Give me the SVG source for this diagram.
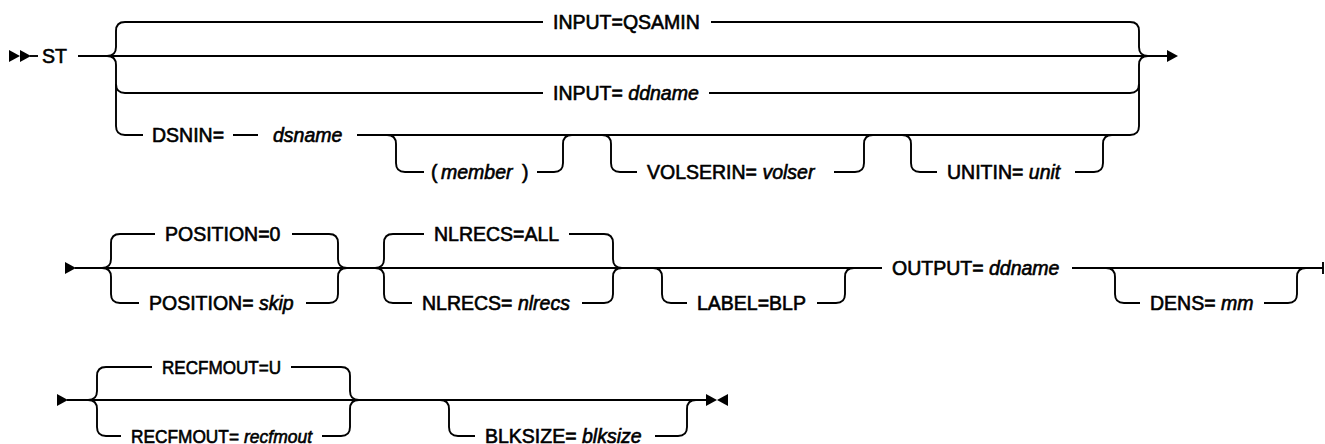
<svg xmlns="http://www.w3.org/2000/svg" xmlns:xlink="http://www.w3.org/1999/xlink" width="1325" height="444" viewBox="0 0 1325 444">
<style>
  .ln { fill: none; stroke: #000; stroke-width: 1.9; }
  .t { font-family: "Liberation Sans", Arial, sans-serif; font-size: 19.5px; fill: #000; stroke: #000; stroke-width: 0.6; }
  .s { font-size: 18px; }
  .v { font-style: italic; }
  .ah { fill: #000; }
</style>
<defs>
  <polygon id="arR" points="0,-6 0,6 11,0" class="ah"/>
  <polygon id="arL" points="11,-6 11,6 0,0" class="ah"/>
</defs>
<rect width="1325" height="444" fill="#fff"/>

<g id="connectors">
  <!-- Row 1 -->
  <use xlink:href="#arR" x="9" y="56"/>
  <use xlink:href="#arR" x="20" y="56"/>
  <path class="ln" d="M30,56 H38"/>
  <path class="ln" d="M78,56 H1167"/>
  <use xlink:href="#arR" x="1167" y="56"/>
  <path class="ln" d="M125,22 Q116,22 116,31 V47 Q116,56 107,56"/>
  <path class="ln" d="M107,56 Q116,56 116,65 V126 Q116,135 125,135"/>
  <path class="ln" d="M116,84 Q116,93 125,93"/>
  <path class="ln" d="M1130,22 Q1139,22 1139,31 V47 Q1139,56 1148,56"/>
  <path class="ln" d="M1148,56 Q1139,56 1139,65 V126 Q1139,135 1130,135"/>
  <path class="ln" d="M1139,84 Q1139,93 1130,93"/>
  <path class="ln" d="M125,22 H543 M711,22 H1130"/>
  <path class="ln" d="M125,93 H543 M709,93 H1130"/>
  <path class="ln" d="M125,135 H143 M233,135 H258 M357,135 H1130"/>
  <path class="ln" d="M387,135 Q396,135 396,144 V163 Q396,172 405,172 H424"/>
  <path class="ln" d="M537,172 H554 Q563,172 563,163 V144 Q563,135 572,135"/>
  <path class="ln" d="M602,135 Q611,135 611,144 V163 Q611,172 620,172 H637"/>
  <path class="ln" d="M834,172 H855 Q864,172 864,163 V144 Q864,135 873,135"/>
  <path class="ln" d="M902,135 Q911,135 911,144 V163 Q911,172 920,172 H937"/>
  <path class="ln" d="M1075,172 H1094 Q1103,172 1103,163 V144 Q1103,135 1112,135"/>

  <!-- Row 2 -->
  <use xlink:href="#arR" x="65" y="268"/>
  <path class="ln" d="M75,268 H882 M1072,268 H1323"/>
  <path class="ln" d="M1323,262 V274"/>
  <path class="ln" d="M120,234 Q111,234 111,243 V259 Q111,268 102,268"/>
  <path class="ln" d="M102,268 Q111,268 111,277 V294 Q111,303 120,303"/>
  <path class="ln" d="M329,234 Q338,234 338,243 V259 Q338,268 347,268"/>
  <path class="ln" d="M347,268 Q338,268 338,277 V294 Q338,303 329,303"/>
  <path class="ln" d="M120,234 H155 M292,234 H329"/>
  <path class="ln" d="M120,303 H139 M306,303 H329"/>
  <path class="ln" d="M393,234 Q384,234 384,243 V259 Q384,268 375,268"/>
  <path class="ln" d="M375,268 Q384,268 384,277 V294 Q384,303 393,303"/>
  <path class="ln" d="M604,234 Q613,234 613,243 V259 Q613,268 622,268"/>
  <path class="ln" d="M622,268 Q613,268 613,277 V294 Q613,303 604,303"/>
  <path class="ln" d="M393,234 H424 M569,234 H604"/>
  <path class="ln" d="M393,303 H412 M582,303 H604"/>
  <path class="ln" d="M653,268 Q662,268 662,277 V294 Q662,303 671,303 H687"/>
  <path class="ln" d="M817,303 H836 Q845,303 845,294 V277 Q845,268 854,268"/>
  <path class="ln" d="M1106,268 Q1115,268 1115,277 V294 Q1115,303 1124,303 H1140"/>
  <path class="ln" d="M1264,303 H1288 Q1297,303 1297,294 V277 Q1297,268 1306,268"/>

  <!-- Row 3 -->
  <use xlink:href="#arR" x="57" y="400"/>
  <path class="ln" d="M67,400 H706"/>
  <use xlink:href="#arR" x="706" y="400"/>
  <use xlink:href="#arL" x="717" y="400"/>
  <path class="ln" d="M106,367 Q97,367 97,376 V391 Q97,400 88,400"/>
  <path class="ln" d="M88,400 Q97,400 97,409 V427 Q97,436 106,436"/>
  <path class="ln" d="M341,367 Q350,367 350,376 V391 Q350,400 359,400"/>
  <path class="ln" d="M359,400 Q350,400 350,409 V427 Q350,436 341,436"/>
  <path class="ln" d="M106,367 H152 M291,367 H341"/>
  <path class="ln" d="M106,436 H121 M322,436 H341"/>
  <path class="ln" d="M440,400 Q449,400 449,409 V427 Q449,436 458,436 H475"/>
  <path class="ln" d="M655,436 H678 Q687,436 687,427 V409 Q687,400 696,400"/>
</g>

<g id="n-st"><text class="t" x="42" y="63">ST</text></g>
<g id="n-input-qsamin"><text class="t" x="553" y="28.5">INPUT=QSAMIN</text></g>
<g id="n-input-ddname"><text class="t" x="553" y="99.5">INPUT= <tspan class="v">ddname</tspan></text></g>
<g id="n-dsnin"><text class="t" x="152" y="141.5">DSNIN=</text></g>
<g id="n-dsname"><text class="t v" x="273" y="141.5">dsname</text></g>
<g id="n-member"><text class="t" x="431" y="178.5">(</text><text class="t v" x="441" y="178.5">member</text><text class="t" x="522" y="178.5">)</text></g>
<g id="n-volserin"><text class="t" x="647" y="178.5">VOLSERIN= <tspan class="v">volser</tspan></text></g>
<g id="n-unitin"><text class="t" x="947" y="178.5">UNITIN= <tspan class="v">unit</tspan></text></g>

<g id="n-position0"><text class="t" x="165" y="240.5">POSITION=0</text></g>
<g id="n-position-skip"><text class="t" x="149" y="309.5">POSITION= <tspan class="v">skip</tspan></text></g>
<g id="n-nlrecs-all"><text class="t" x="434" y="240.5">NLRECS=ALL</text></g>
<g id="n-nlrecs"><text class="t" x="422" y="309.5">NLRECS= <tspan class="v">nlrecs</tspan></text></g>
<g id="n-label"><text class="t" x="697" y="309.5">LABEL=BLP</text></g>
<g id="n-output"><text class="t" x="892" y="274.5">OUTPUT= <tspan class="v">ddname</tspan></text></g>
<g id="n-dens"><text class="t" x="1150" y="309.5">DENS= <tspan class="v">mm</tspan></text></g>

<g id="n-recfmout-u"><text class="t s" x="162" y="373.5" textLength="119" lengthAdjust="spacingAndGlyphs">RECFMOUT=U</text></g>
<g id="n-recfmout"><text class="t s" x="131" y="442.5" textLength="108" lengthAdjust="spacingAndGlyphs">RECFMOUT=</text><text class="t s v" x="244" y="442.5" textLength="68" lengthAdjust="spacingAndGlyphs">recfmout</text></g>
<g id="n-blksize"><text class="t" x="485" y="442.5">BLKSIZE= <tspan class="v">blksize</tspan></text></g>
</svg>
